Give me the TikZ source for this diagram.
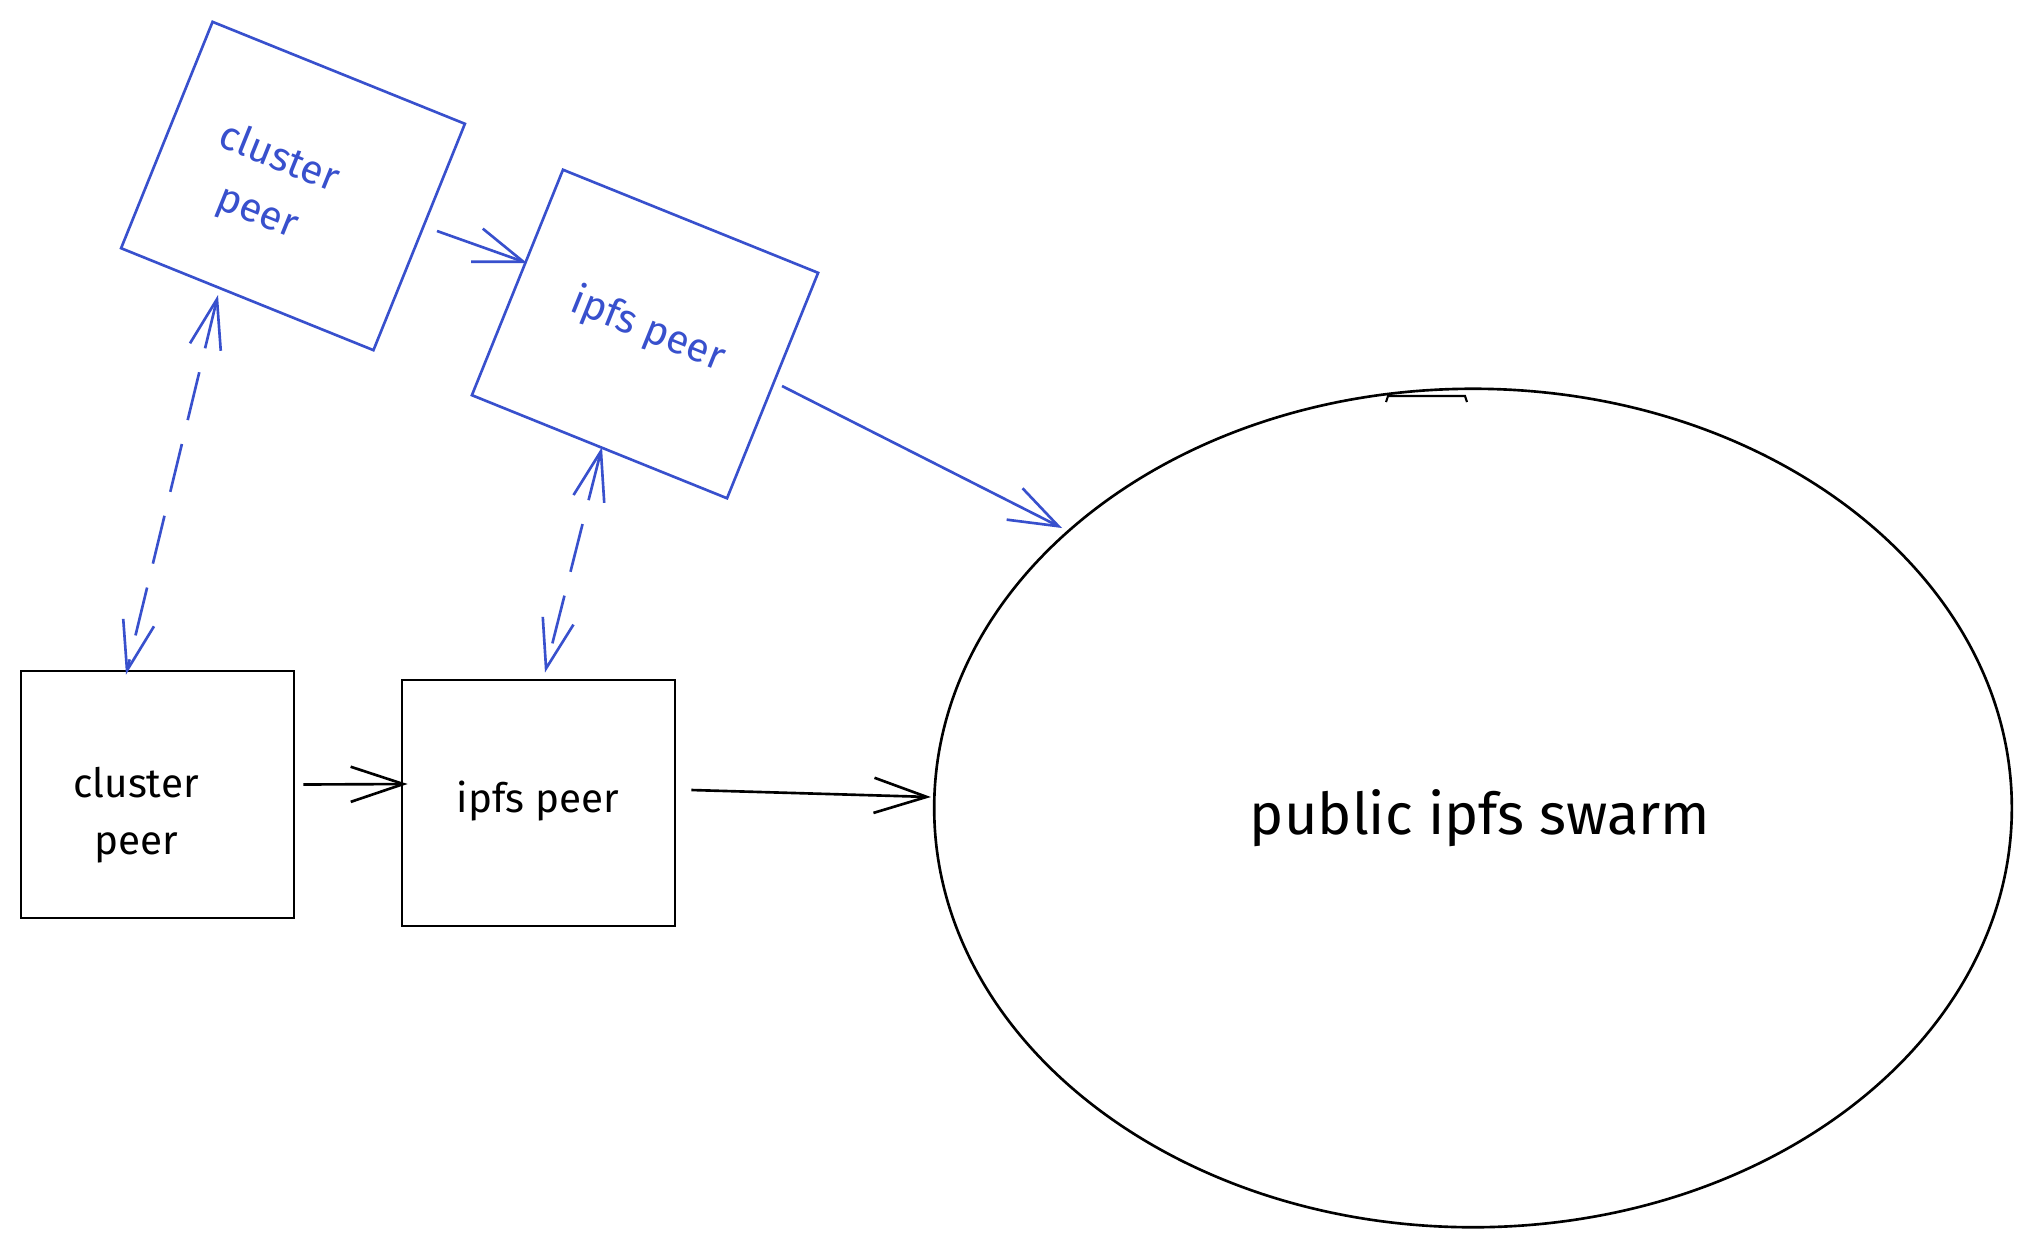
\documentclass[tikz,border=0pt]{standalone}
\usepackage{fontspec}
\setmainfont{Fira Sans}
\usetikzlibrary{arrows.meta,shapes.geometric}
\definecolor{sketchblue}{RGB}{56,80,205}
\tikzset{
  boxk/.style={draw=black, line width=0.75pt, inner sep=0pt},
  boxb/.style={draw=sketchblue, line width=0.75pt, inner sep=0pt, rotate=-22},
  txtk/.style={text=black, align=center, inner sep=0pt, font=\fontsize{11.5}{16}\selectfont},
  txtb/.style={text=sketchblue, align=center, inner sep=0pt, rotate=-22, font=\fontsize{11.5}{16.5}\selectfont},
  arrk/.style={draw=black, line width=0.75pt, -{Straight Barb[length=15pt,width=10pt]}},
  arrb/.style={draw=sketchblue, line width=0.75pt, -{Straight Barb[length=14pt,width=10pt]}},
  dashb/.style={draw=sketchblue, line width=0.75pt, dash pattern=on 14pt off 7pt,
    {Straight Barb[length=14pt,width=9pt]}-{Straight Barb[length=14pt,width=9pt]}}
}
\begin{document}
\begin{tikzpicture}[x=0.01cm,y=-0.01cm]
\useasboundingbox[fill=white] (0,0) rectangle (2031,1248);
% black boxes
\node[boxk, minimum width=2.73cm, minimum height=2.47cm] (cpB) at (157.5,794.5) {};
\node[txtk] (cpBt) at (136,815) {cluster\\peer};
\node[boxk, minimum width=2.73cm, minimum height=2.46cm] (ipB) at (538.5,803) {};
\node[txtk] (ipBt) at (538,801) {ipfs peer};
% blue rotated boxes
\node[boxb, minimum width=2.72cm, minimum height=2.44cm] (cpA) at (293,186) {};
\node[txtb] (cpAt) at (268,186) {cluster\\peer};
\node[boxb, minimum width=2.75cm, minimum height=2.43cm] (ipA) at (645,334) {};
\node[txtb] (ipAt) at (648,330) {ipfs peer};
% swarm
\node[draw=black, line width=0.75pt, ellipse, inner sep=0pt, minimum width=10.77cm, minimum height=8.38cm] (sw) at (1473,808) {};
\node[text=black, inner sep=0pt, font=\fontsize{16.4}{20}\selectfont] (swt) at (1480,818) {public ipfs swarm};
\draw[black, line width=0.6pt] (1386,402) -- (1388,396) -- (1465,396) -- (1467,402);
% black arrows
\draw[arrk] ([shift={(8,-10)}]cpB.east) -- ([shift={(7,-19)}]ipB.west);
\draw[arrk] ([shift={(15,-13)}]ipB.east) -- ([shift={(-2,-11)}]sw.west);
% blue arrows
\draw[arrb] ([shift={(144,45)}]cpA.center) -- ([shift={(-118,-71)}]ipA.center);
\draw[arrb] ([shift={(137,52)}]ipA.center) -- ([shift={(-411,-280)}]sw.center);
% dashed double arrows
\draw[dashb] ([shift={(-75,109)}]cpA.center) -- ([shift={(-31.5,5)}]cpB.north);
\draw[dashb] ([shift={(-43,113)}]ipA.center) -- ([shift={(6.5,-6)}]ipB.north);
\end{tikzpicture}
\end{document}
